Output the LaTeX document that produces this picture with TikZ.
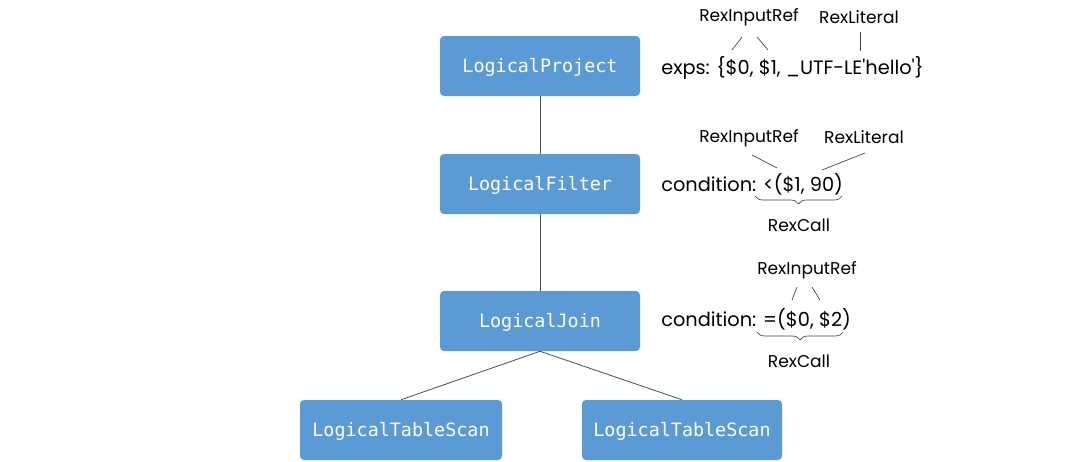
\documentclass[tikz,border=0pt]{standalone}
\usepackage{fontspec}
\setmonofont{DejaVu Sans Mono}
\newfontfamily\notefont{Poppins}
\usetikzlibrary{decorations.pathreplacing}
\definecolor{planblue}{HTML}{5B9BD5}
\tikzset{
	relnode/.style={fill=planblue,rounded corners=3pt,minimum width=150pt,minimum height=45pt,
		text=white,font=\ttfamily\fontsize{13.8pt}{16pt}\selectfont,inner sep=0pt,
		text height=10pt,text depth=1pt},
	edge/.style={draw=black!70,line width=0.6pt},
	exprtext/.style={anchor=west,inner sep=0pt,font=\notefont\fontsize{14.5pt}{17pt}\selectfont},
	rextext/.style={inner sep=0pt,font=\notefont\fontsize{12.8pt}{15pt}\selectfont},
	tick/.style={draw=black!75,line width=0.5pt},
	rexbrace/.style={draw=black!75,line width=0.5pt,decorate,decoration={brace,mirror,amplitude=6pt}}
}
\begin{document}
\begin{tikzpicture}[x=0.75pt,y=-0.75pt]
\useasboundingbox (0,0) rectangle (1080,461);
%plan tree
\node[relnode] (project) at (540,66) {LogicalProject};
\node[relnode] (filter) at (540,184) {LogicalFilter};
\node[relnode] (join) at (540,321) {LogicalJoin};
\node[relnode,minimum width=151.5pt] (scanl) at (401,430) {LogicalTableScan};
\node[relnode] (scanr) at (682,430) {LogicalTableScan};
\draw[edge] (project.south) -- (filter.north);
\draw[edge] (filter.south) -- (join.north);
\draw[edge] (join.south) -- (scanl.north);
\draw[edge] (join.south) -- (scanr.north);
%project expressions
\node[exprtext] (exps) at (661,68) {exps: \{\$0, \$1, \_UTF-LE'hello'\}};
\node[rextext] (pref) at (749,17) {RexInputRef};
\node[rextext] (plit) at (859,17) {RexLiteral};
\coordinate (p1) at (742,37); \coordinate (p2) at (732,50);
\coordinate (p3) at (757,37); \coordinate (p4) at (768,50);
\coordinate (p5) at (860,32); \coordinate (p6) at (860,51);
\draw[tick] (p1) -- (p2);
\draw[tick] (p3) -- (p4);
\draw[tick] (p5) -- (p6);
%filter condition
\node[exprtext] (fcond) at (661,184) {condition: <(\$1, 90)};
\node[rextext] (fref) at (749,138) {RexInputRef};
\node[rextext] (flit) at (864,137) {RexLiteral};
\coordinate (f1) at (752,155); \coordinate (f2) at (777,168);
\coordinate (f3) at (865,153); \coordinate (f4) at (822,170);
\draw[tick] (f1) -- (f2);
\draw[tick] (f3) -- (f4);
\coordinate (fb1) at (755,196); \coordinate (fb2) at (842,196);
\draw[rexbrace] (fb1) -- (fb2);
\node[rextext] (fcall) at (799,225) {RexCall};
%join condition
\node[exprtext] (jcond) at (661,319) {condition: =(\$0, \$2)};
\node[rextext] (jref) at (807,270) {RexInputRef};
\coordinate (j1) at (797,287); \coordinate (j2) at (792,300);
\coordinate (j3) at (812,287); \coordinate (j4) at (820,300);
\draw[tick] (j1) -- (j2);
\draw[tick] (j3) -- (j4);
\coordinate (jb1) at (757,332); \coordinate (jb2) at (843,332);
\draw[rexbrace] (jb1) -- (jb2);
\node[rextext] (jcall) at (799,361) {RexCall};
\end{tikzpicture}
\end{document}
